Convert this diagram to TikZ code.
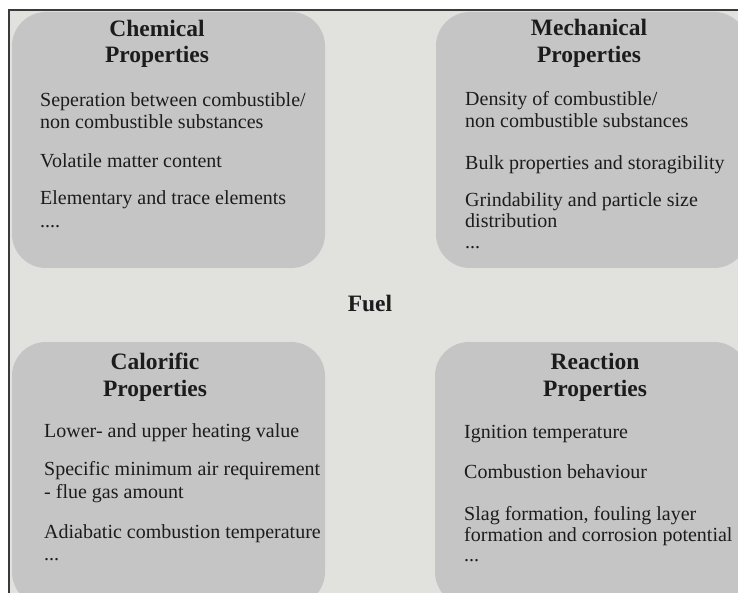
\documentclass[tikz,border=0pt]{standalone}
\usepackage{fontspec}
\setmainfont{Liberation Serif}
\definecolor{bgc}{HTML}{E1E1DE}
\definecolor{boxc}{HTML}{C5C5C5}
\definecolor{txt}{HTML}{1C1C1C}
\definecolor{frame}{HTML}{3A3A3A}
\begin{document}
\begin{tikzpicture}[x=1pt,y=-1pt,
  group/.style={fill=boxc,draw=none,rounded corners=34pt},
  ttl/.style={font=\fontsize{23.5}{26}\selectfont\bfseries,text=txt,anchor=base,inner sep=0pt},
  body/.style={font=\fontsize{20}{22}\selectfont,text=txt,anchor=base west,inner sep=0pt}]
\useasboundingbox (0,0) rectangle (738,593);
\fill[white] (0,0) rectangle (738,593);
\fill[bgc] (9,10) rectangle (738,593);
\begin{scope}
\clip (9,10) rectangle (738,593);
\fill[group] (12,12) rectangle (325,268);
\fill[group] (436,12) rectangle (748,268);
\fill[group] (12,342) rectangle (325,606);
\fill[group] (435,342) rectangle (748,606);
\end{scope}
\draw[frame,line width=1.2pt] (9,593) -- (9,10) -- (738,10);
% Chemical
\node[ttl] (t1a) at (157,37) {Chemical};
\node[ttl] (t1b) at (157,63) {Properties};
\node[body] (c1) at (40,107) {Seperation between combustible/};
\node[body] (c2) at (40,129) {non combustible substances};
\node[body] (c3) at (40,168) {Volatile matter content};
\node[body] (c4) at (40,205) {Elementary and trace elements};
\node[body] (c5) at (40,228) {....};
% Mechanical
\node[ttl] (t2a) at (589,36) {Mechanical};
\node[ttl] (t2b) at (589,63) {Properties};
\node[body] (m1) at (465,106) {Density of combustible/};
\node[body] (m2) at (465,128) {non combustible substances};
\node[body] (m3) at (465,170) {Bulk properties and storagibility};
\node[body] (m4) at (465,207) {Grindability and particle size};
\node[body] (m5) at (465,228) {distribution};
\node[body] (m6) at (465,249) {...};
% Fuel
\node[ttl] (fuel) at (370,312) {Fuel};
% Calorific
\node[ttl] (t3a) at (155,369) {Calorific};
\node[ttl] (t3b) at (155,396) {Properties};
\node[body] (k1) at (44,437) {Lower- and upper heating value};
\node[body] (k2) at (44,475) {Specific minimum air requirement};
\node[body] (k3) at (44,498) {- flue gas amount};
\node[body] (k4) at (44,538) {Adiabatic combustion temperature};
\node[body] (k5) at (44,560) {...};
% Reaction
\node[ttl] (t4a) at (595,369) {Reaction};
\node[ttl] (t4b) at (595,396) {Properties};
\node[body] (r1) at (464,438) {Ignition temperature};
\node[body] (r2) at (464,478) {Combustion behaviour};
\node[body] (r3) at (464,520) {Slag formation, fouling layer};
\node[body] (r4) at (464,541) {formation and corrosion potential};
\node[body] (r5) at (464,561) {...};
\end{tikzpicture}
\end{document}
